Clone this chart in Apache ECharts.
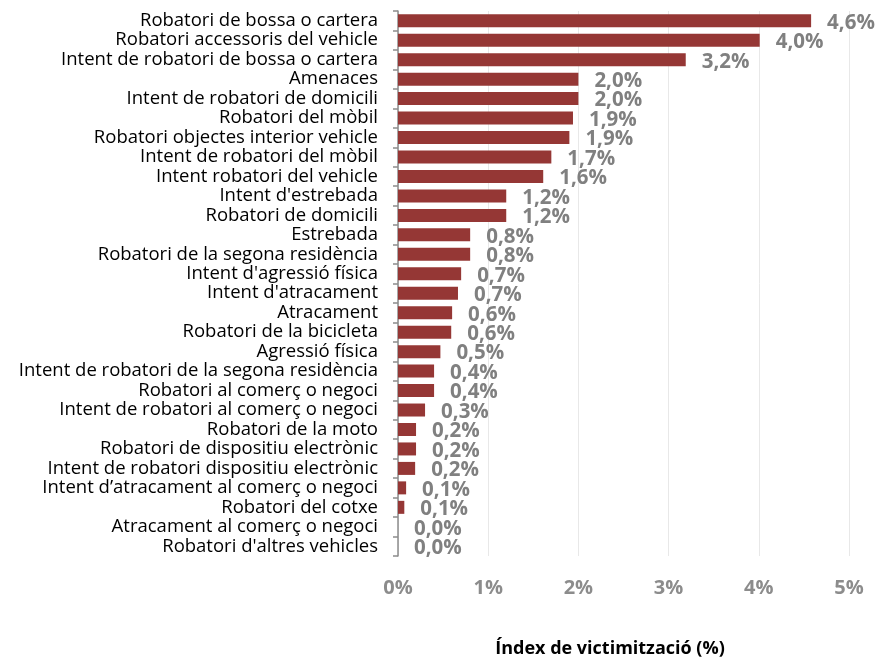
<!DOCTYPE html>
<html>
<head>
<meta charset="utf-8">
<script src="https://cdn.jsdelivr.net/npm/echarts@6/dist/echarts.min.js"></script>
<style>html,body{margin:0;padding:0;background:#fff}#c{width:877px;height:662px}</style>
</head>
<body>
<div id="c"></div>
<script>
const categories = [
  "Robatori de bossa o cartera",
  "Robatori accessoris del vehicle",
  "Intent de robatori de bossa o cartera",
  "Amenaces",
  "Intent de robatori de domicili",
  "Robatori del mòbil",
  "Robatori objectes interior vehicle",
  "Intent de robatori del mòbil",
  "Intent robatori del vehicle",
  "Intent d'estrebada",
  "Robatori de domicili",
  "Estrebada",
  "Robatori de la segona residència",
  "Intent d'agressió física",
  "Intent d'atracament",
  "Atracament",
  "Robatori de la bicicleta",
  "Agressió física",
  "Intent de robatori de la segona residència",
  "Robatori al comerç o negoci",
  "Intent de robatori al comerç o negoci",
  "Robatori de la moto",
  "Robatori de dispositiu electrònic",
  "Intent de robatori dispositiu electrònic",
  "Intent d’atracament al comerç o negoci",
  "Robatori del cotxe",
  "Atracament al comerç o negoci",
  "Robatori d'altres vehicles"
];
const values = [4.58, 4.01, 3.19, 2.0, 2.0, 1.94, 1.90, 1.70, 1.61, 1.20, 1.20, 0.80, 0.80, 0.70, 0.665, 0.60, 0.59, 0.47, 0.40, 0.40, 0.30, 0.20, 0.20, 0.19, 0.09, 0.07, 0.0, 0.0];
const xTicks = [0, 1, 2, 3, 4, 5];
const axisTitle = "Índex de victimització (%)";

const chart = echarts.init(document.getElementById('c'), null, {renderer: 'canvas'});
chart.setOption({
  animation: false,
  backgroundColor: '#ffffff',
  grid: {left: 398, right: 28, top: 11, bottom: 106, containLabel: false},
  xAxis: {
    type: 'value',
    min: xTicks[0],
    max: xTicks[xTicks.length - 1],
    interval: 1,
    axisLine: {show: false},
    axisTick: {show: false},
    splitLine: {show: true, lineStyle: {color: '#e8e8e8', width: 1}},
    axisLabel: {
      margin: 22,
      color: '#8c8c8c',
      fontFamily: 'Open Sans',
      fontWeight: 'bold',
      fontSize: 20,
      formatter: v => v + '%'
    }
  },
  yAxis: {
    type: 'category',
    inverse: true,
    data: categories,
    axisLine: {show: true, lineStyle: {color: '#8c8c8c', width: 1.5}},
    axisTick: {show: true, length: 5, lineStyle: {color: '#8c8c8c', width: 1.5}},
    axisLabel: {
      interval: 0,
      margin: 20,
      color: '#000000',
      fontFamily: 'Open Sans',
      fontSize: 18.5
    }
  },
  series: [{
    type: 'bar',
    data: values,
    barWidth: 13,
    itemStyle: {color: '#953735'},
    label: {
      show: true,
      position: 'right',
      distance: 16,
      color: '#808080',
      fontFamily: 'Open Sans',
      fontWeight: 'bold',
      fontSize: 20.5,
      offset: [0, 2],
      formatter: p => p.value.toFixed(1).replace('.', ',') + '%'
    }
  }],
  graphic: [{
    type: 'text',
    x: 610,
    y: 649,
    style: {
      text: axisTitle,
      fill: '#000000',
      font: 'bold 18px "Open Sans"',
      textAlign: 'center',
      textVerticalAlign: 'middle'
    }
  }]
});
</script>
</body>
</html>
